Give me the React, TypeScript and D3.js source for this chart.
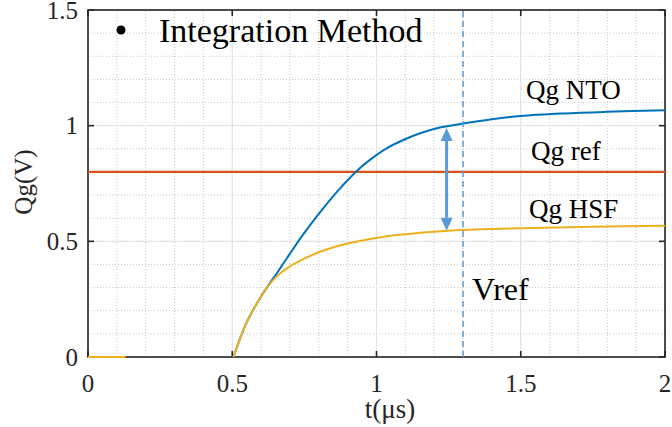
import React from 'react';
import * as d3 from 'd3';

// series (t in µs, Qg in V); null = gap
const hsfT = [0, 0.13, 0.3, 0.504, 0.55, 0.596, 0.62, 0.66, 0.7, 0.75, 0.804, 0.86, 0.92, 1.035, 1.151, 1.29, 1.5, 1.75, 2.0];
const hsfV = [0, 0, null, 0, 0.15, 0.254, 0.3, 0.355, 0.392, 0.425, 0.455, 0.478, 0.496, 0.522, 0.537, 0.549, 0.557, 0.563, 0.567];

const ntoT = [0.504, 0.55, 0.596, 0.62, 0.66, 0.7, 0.746, 0.804, 0.862, 0.929, 0.977, 1.035, 1.093, 1.151, 1.209, 1.29, 1.4, 1.5, 1.65, 1.8, 2.0];
const ntoV = [0, 0.15, 0.254, 0.3, 0.372, 0.447, 0.53, 0.625, 0.713, 0.801, 0.852, 0.902, 0.938, 0.967, 0.989, 1.007, 1.028, 1.042, 1.053, 1.06, 1.067];

const refT = [0, 2];
const refV = [0.8, 0.8];

const vrefT = 1.3;
const arrowT = 1.243;
const arrowTop = 0.99;
const arrowBottom = 0.546;

const xTicks = [0, 0.5, 1, 1.5, 2];
const xTickLabels = ['0', '0.5', '1', '1.5', '2'];
const yTicks = [0, 0.5, 1, 1.5];
const yTickLabels = ['0', '0.5', '1', '1.5'];

const W = 672;
const H = 427;
const FONT = '"Liberation Serif", "Times New Roman", serif';

export default function App() {
  const x = d3.scaleLinear().domain([0, 2]).range([88, 665]);
  const y = d3.scaleLinear().domain([0, 1.5]).range([357, 10]);

  const line = d3
    .line<[number, number | null]>()
    .defined((d) => d[1] != null)
    .x((d) => x(d[0]))
    .y((d) => y(d[1] as number))
    .curve(d3.curveCatmullRom.alpha(0.5));

  const hsf = hsfT.map((t, i) => [t, hsfV[i]] as [number, number | null]);
  const nto = ntoT.map((t, i) => [t, ntoV[i]] as [number, number | null]);
  const ref = refT.map((t, i) => [t, refV[i]] as [number, number | null]);

  const minorX = d3.range(0, 2.001, 0.1);
  const minorY = d3.range(0, 1.501, 0.1);

  const ax = x(arrowT);
  const aTop = y(arrowTop);
  const aBot = y(arrowBottom);
  const hw = 6;
  const hl = 13;

  return (
    <svg width={W} height={H} style={{ position: 'absolute', left: 0, top: 0, background: '#fff' }}>
      {/* minor grid */}
      <g stroke="#c8c8c8" strokeWidth={1} strokeDasharray="1,2">
        {minorX.map((v, i) => (
          <line key={'mx' + i} x1={x(v)} x2={x(v)} y1={y(0)} y2={y(1.5)} />
        ))}
        {minorY.map((v, i) => (
          <line key={'my' + i} x1={x(0)} x2={x(2)} y1={y(v)} y2={y(v)} />
        ))}
      </g>
      {/* major grid */}
      <g stroke="#e2e2e2" strokeWidth={1}>
        {xTicks.map((v) => (
          <line key={'gx' + v} x1={x(v)} x2={x(v)} y1={y(0)} y2={y(1.5)} />
        ))}
        {yTicks.map((v) => (
          <line key={'gy' + v} x1={x(0)} x2={x(2)} y1={y(v)} y2={y(v)} />
        ))}
      </g>

      {/* frame + ticks */}
      <rect x={x(0)} y={y(1.5)} width={x(2) - x(0)} height={y(0) - y(1.5)} fill="none" stroke="#262626" strokeWidth={1.6} />
      <g stroke="#262626" strokeWidth={1.6}>
        {xTicks.map((v) => (
          <g key={'tx' + v}>
            <line x1={x(v)} x2={x(v)} y1={y(0)} y2={y(0) - 6} />
            <line x1={x(v)} x2={x(v)} y1={y(1.5)} y2={y(1.5) + 6} />
          </g>
        ))}
        {yTicks.map((v) => (
          <g key={'ty' + v}>
            <line x1={x(0)} x2={x(0) + 6} y1={y(v)} y2={y(v)} />
            <line x1={x(2)} x2={x(2) - 6} y1={y(v)} y2={y(v)} />
          </g>
        ))}
      </g>

      {/* curves */}
      <path d={line(ref) || ''} fill="none" stroke="#D95319" strokeWidth={2.2} />
      <path d={line(nto) || ''} fill="none" stroke="#0072BD" strokeWidth={2} />
      <path d={line(hsf) || ''} fill="none" stroke="#EDB120" strokeWidth={2} />

      {/* Vref dashed line */}
      <line x1={x(vrefT)} x2={x(vrefT)} y1={y(0)} y2={y(1.5)} stroke="#5B9BD5" strokeWidth={1.5} strokeDasharray="6,4" />

      {/* double arrow */}
      <g fill="#5B9BD5" stroke="#5B9BD5">
        <line x1={ax} x2={ax} y1={aTop + hl} y2={aBot - hl} strokeWidth={3} />
        <polygon points={`${ax},${aTop} ${ax - hw},${aTop + hl} ${ax + hw},${aTop + hl}`} strokeWidth={0} />
        <polygon points={`${ax},${aBot} ${ax - hw},${aBot - hl} ${ax + hw},${aBot - hl}`} strokeWidth={0} />
      </g>

      {/* tick labels */}
      <g fontFamily={FONT} fontSize={25} fill="#262626">
        {xTicks.map((v, i) => (
          <text key={'xl' + v} x={x(v)} y={y(0) + 35} textAnchor="middle">
            {xTickLabels[i]}
          </text>
        ))}
        {yTicks.map((v, i) => (
          <text key={'yl' + v} x={x(0) - 10} y={y(v)} dy="0.35em" textAnchor="end">
            {yTickLabels[i]}
          </text>
        ))}
      </g>

      {/* axis titles */}
      <text x={390} y={418} textAnchor="middle" fontFamily={FONT} fontSize={27} fill="#262626">
        t(μs)
      </text>
      <text transform="translate(32,182) rotate(-90)" textAnchor="middle" fontFamily={FONT} fontSize={25} fill="#262626">
        Qg(V)
      </text>

      {/* annotations */}
      <circle cx={121} cy={30} r={4.5} fill="#000" />
      <text x={159} y={42} fontFamily={FONT} fontSize={34} fill="#000">
        Integration Method
      </text>
      <g fontFamily={FONT} fontSize={27} fill="#000">
        <text x={526} y={99}>Qg NTO</text>
        <text x={531} y={160}>Qg ref</text>
        <text x={529} y={218}>Qg HSF</text>
      </g>
      <text x={472} y={300} fontFamily={FONT} fontSize={32} fill="#000">
        Vref
      </text>
    </svg>
  );
}
